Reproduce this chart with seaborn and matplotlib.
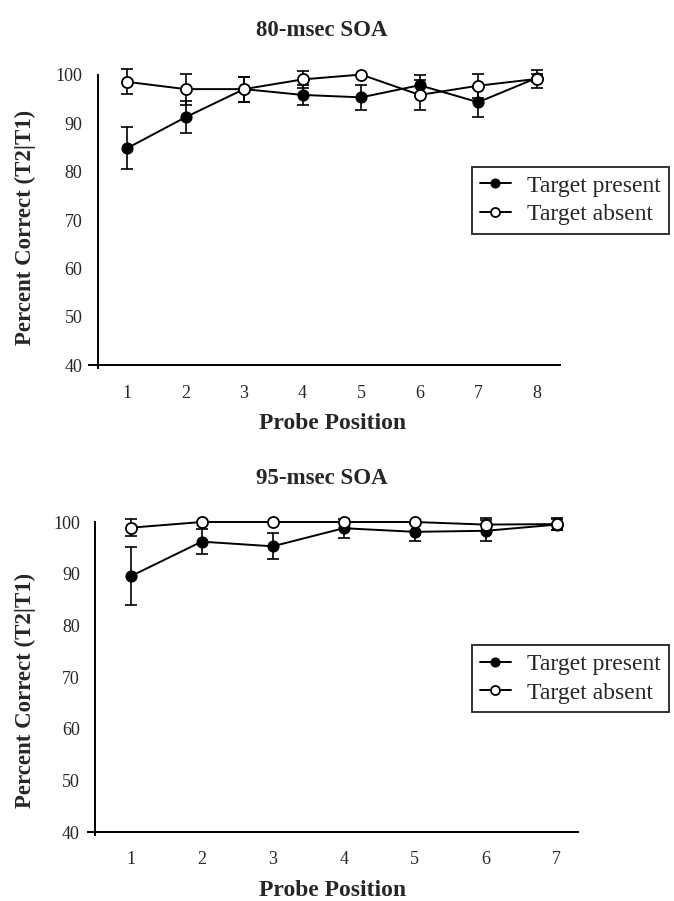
import numpy as np
import pandas as pd
import seaborn as sns
import matplotlib.pyplot as plt

# 80-msec SOA panel
pos_80 = [1, 2, 3, 4, 5, 6, 7, 8]
present_80 = [84.8, 91.2, 97.0, 95.8, 95.3, 97.8, 94.3, 99.3]
present_80_err = [4.3, 3.3, 2.6, 2.1, 2.6, 2.2, 3.0, 0.9]
absent_80 = [98.5, 97.0, 97.0, 99.0, 100.0, 95.8, 97.7, 99.1]
absent_80_err = [2.6, 3.2, 2.6, 1.8, 0.0, 3.1, 2.5, 1.8]

# 95-msec SOA panel
pos_95 = [1, 2, 3, 4, 5, 6, 7]
present_95 = [89.5, 96.2, 95.3, 98.8, 98.1, 98.3, 99.5]
present_95_err = [5.6, 2.4, 2.5, 1.8, 1.7, 2.0, 1.0]
absent_95 = [98.9, 100.0, 100.0, 100.0, 100.0, 99.5, 99.6]
absent_95_err = [1.7, 0.0, 0.0, 0.0, 0.0, 1.2, 1.2]

sns.set_style('white')
plt.rcParams['font.family'] = ['Liberation Serif', 'DejaVu Serif']

fig = plt.figure(figsize=(6.74, 9.01), dpi=100)
ax1 = fig.add_axes([0.132, 0.589, 0.699, 0.339])
ax2 = fig.add_axes([0.1306, 0.0708, 0.727, 0.3613])


def draw_panel(ax, pos, pres, pres_err, absn, absn_err, xlim, legend_anchor,
               xlab_x, ylab_xy):
    df = pd.DataFrame({'pos': pos, 'present': pres, 'absent': absn})
    ax.errorbar(pos, pres, yerr=pres_err, fmt='none', ecolor='black',
                elinewidth=1.2, capsize=4, capthick=1.2, zorder=1)
    ax.errorbar(pos, absn, yerr=absn_err, fmt='none', ecolor='black',
                elinewidth=1.2, capsize=4, capthick=1.2, zorder=1)
    sns.lineplot(data=df, x='pos', y='present', ax=ax, color='black',
                 marker='o', markersize=8, markerfacecolor='black',
                 markeredgecolor='black', linewidth=1.4, zorder=3,
                 label='Target present')
    sns.lineplot(data=df, x='pos', y='absent', ax=ax, color='black',
                 marker='o', markersize=8, markerfacecolor='white',
                 markeredgecolor='black', markeredgewidth=1.3,
                 linewidth=1.4, zorder=4, label='Target absent')

    ax.set_xlim(*xlim)
    ax.set_ylim(39, 102)
    ax.set_xticks(pos)
    ax.set_yticks([40, 50, 60, 70, 80, 90, 100])
    sns.despine(ax=ax)
    ax.spines['left'].set_position(('data', 0.5))
    ax.spines['bottom'].set_position(('data', 40))
    ax.spines['left'].set_bounds(39.4, 100)
    for s in ['left', 'bottom']:
        ax.spines[s].set_linewidth(1.4)
        ax.spines[s].set_color('black')
    ax.tick_params(axis='both', direction='out', length=6, width=1.2,
                   color='black', labelsize=13, pad=5)
    ax.tick_params(axis='x', pad=8)

    ax.set_xlabel('Probe Position', fontsize=17, fontweight='bold', labelpad=8)
    ax.xaxis.label.set_x(xlab_x)
    ax.set_ylabel('Percent Correct (T2|T1)', fontsize=16.5, fontweight='bold')
    ax.yaxis.set_label_coords(*ylab_xy)

    leg = ax.legend(loc='upper left', bbox_to_anchor=legend_anchor,
                    bbox_transform=fig.transFigure, fontsize=17,
                    frameon=True, fancybox=False, borderpad=0.35,
                    handlelength=1.3, handletextpad=0.7, labelspacing=0.3,
                    borderaxespad=0)
    leg.get_frame().set_edgecolor('black')
    leg.get_frame().set_linewidth(1.4)
    for h in leg.legend_handles:
        h.set_markersize(6.5)


draw_panel(ax1, pos_80, present_80, present_80_err, absent_80, absent_80_err,
           (0.35, 8.4), (0.700, 0.8147), 0.518, (-0.113, 0.467))
draw_panel(ax2, pos_95, present_95, present_95_err, absent_95, absent_95_err,
           (0.4, 7.3), (0.700, 0.284), 0.5, (-0.106, 0.45))

fig.text(0.478, 0.966, '80-msec SOA', ha='center', va='center',
         fontsize=16.5, fontweight='bold')
fig.text(0.478, 0.469, '95-msec SOA', ha='center', va='center',
         fontsize=16.5, fontweight='bold')

fig.savefig('out.png', dpi=100)
